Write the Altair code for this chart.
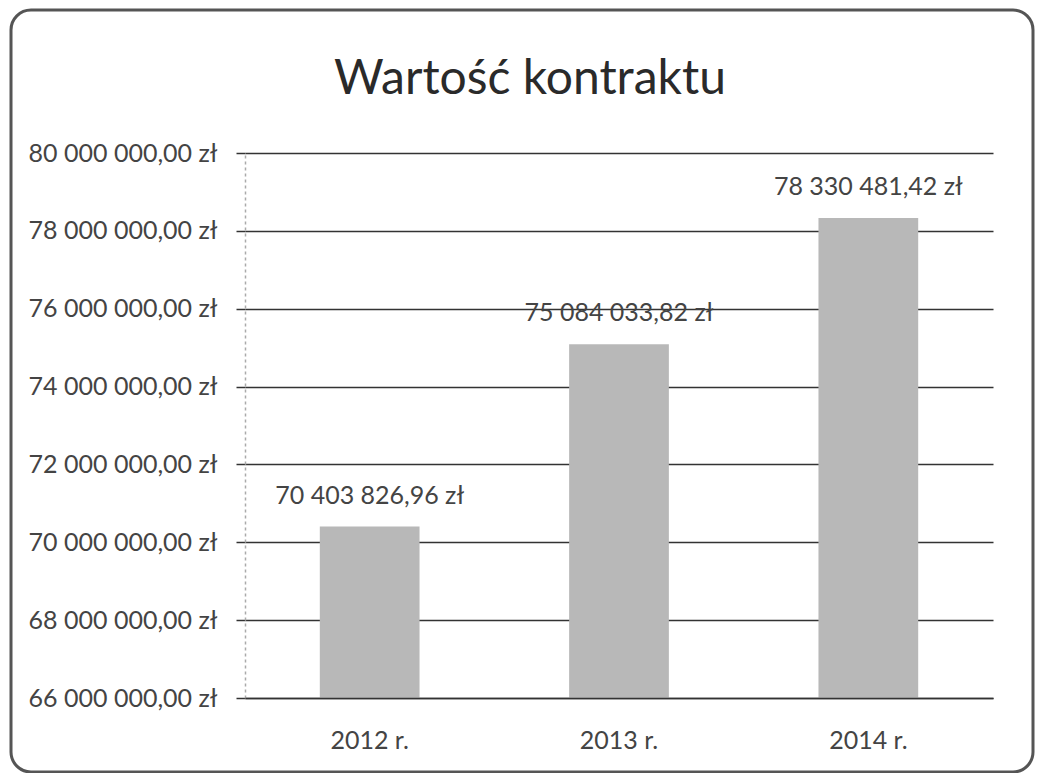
import altair as alt
import pandas as pd

years = ["2012 r.", "2013 r.", "2014 r."]
values = [70403826.96, 75084033.82, 78330481.42]
y_ticks = [66000000, 68000000, 70000000, 72000000, 74000000, 76000000, 78000000, 80000000]
title_text = "Wartość kontraktu"


def pl(v):
    return f"{v:,.2f}".replace(",", " ").replace(".", ",") + " zł"


df = pd.DataFrame({"rok": years, "wartosc": values, "etykieta": [pl(v) for v in values]})

FONT = "Lato"
TXT = "#444444"
label_expr = ("replace(replace(format(datum.value, ',.2f'), regexp(',', 'g'), ' '), '.', ',') + ' zł'")

x = alt.X(
    "rok:N",
    sort=years,
    scale=alt.Scale(paddingInner=0.6, paddingOuter=0.3),
    axis=alt.Axis(
        title=None, labelAngle=0, labelFont=FONT, labelFontSize=25, labelColor=TXT,
        labelPadding=30, ticks=False, domainColor="#333333", domainWidth=1.5, grid=False,
        zindex=1,
    ),
)
y = alt.Y(
    "wartosc:Q",
    scale=alt.Scale(domain=[66000000, 80000000], nice=False, zero=False),
    axis=alt.Axis(
        title=None, values=y_ticks, labelExpr=label_expr, labelFont=FONT, labelFontSize=25,
        labelColor=TXT, labelPadding=19, labelLimit=400, tickSize=9, tickColor="#333333",
        tickWidth=1.5, grid=True, gridColor="#333333", gridWidth=1.5,
        domainColor="#aaaaaa", domainDash=[3, 3], domainWidth=1.5,
    ),
)

frame = alt.Chart(alt.Data(values=[{"k": 1}])).mark_rect(
    fill="white", fillOpacity=0, stroke="#555555", strokeWidth=3, cornerRadius=20
).encode(
    x=alt.value(-234), x2=alt.value(788), y=alt.value(-143), y2=alt.value(619)
)

bars = alt.Chart(df).mark_bar(color="#b8b8b8", clip=True).encode(x=x, y=y)

labels = alt.Chart(df).mark_text(
    dy=-31, font=FONT, fontSize=25, color=TXT, baseline="middle"
).encode(x=x, y=y, text="etykieta:N")

chart = alt.layer(frame, bars, labels).properties(
    width=748,
    height=545,
    title=alt.TitleParams(
        text=title_text, font=FONT, fontSize=48, fontWeight="normal", color="#2a2a2a",
        anchor="middle", dx=-89, offset=-95,
    ),
    autosize=alt.AutoSizeParams(type="none"),
    padding={"left": 237, "top": 145, "right": 42, "bottom": 75},
    background="white",
).configure_view(strokeWidth=0)

chart.save("out.html", embed_options={"renderer": "svg", "actions": False})
